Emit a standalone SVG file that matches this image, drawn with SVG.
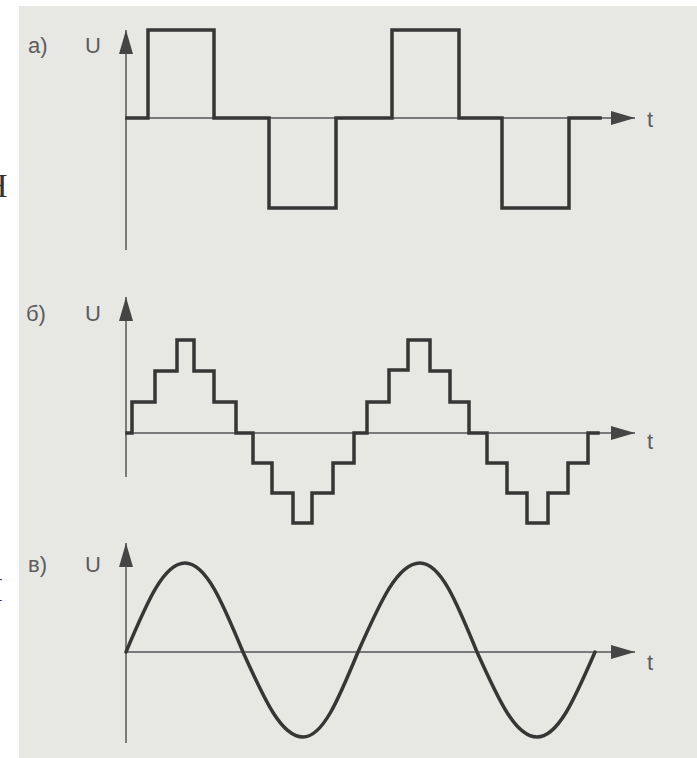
<svg xmlns="http://www.w3.org/2000/svg" width="697" height="758" viewBox="0 0 697 758">
<defs>
<marker id="arr" markerUnits="userSpaceOnUse" markerWidth="24" markerHeight="14" refX="24" refY="7" orient="auto" overflow="visible">
<path d="M0,0 L24,7 L0,14 Z" fill="#454545"/>
</marker>
<style>
.axis{stroke:#7a7a7a;stroke-width:2;fill:none}
.wave{stroke:#363636;stroke-width:3.5;fill:none;stroke-linejoin:miter;stroke-linecap:square}
.lbl{font-family:"Liberation Sans",Arial,sans-serif;font-size:22px;fill:#5c5c5c}
.side{font-family:"Liberation Serif","Times New Roman",serif;fill:#333}
</style>
</defs>
<rect x="0" y="0" width="697" height="758" fill="#ffffff"/>
<rect x="19" y="6" width="678" height="752" fill="#e7e7e3"/>
<g id="side-text">
<text class="side" x="-17" y="197" font-size="34">Н</text>
<text class="side" x="-8" y="601" font-size="33">I</text>
</g>
<g id="connectors">
<line class="axis" x1="126" y1="250" x2="126" y2="30" marker-end="url(#arr)"/>
<line class="axis" x1="126" y1="118" x2="635" y2="118" marker-end="url(#arr)"/>
<line class="axis" x1="126" y1="477" x2="126" y2="297" marker-end="url(#arr)"/>
<line class="axis" x1="126" y1="433" x2="635" y2="433" marker-end="url(#arr)"/>
<line class="axis" x1="126" y1="743" x2="126" y2="543" marker-end="url(#arr)"/>
<line class="axis" x1="126" y1="652" x2="635" y2="652" marker-end="url(#arr)"/>
</g>
<g id="plot-a">
<text class="lbl" x="28" y="53">а)</text>
<text class="lbl" x="85" y="53">U</text>
<text class="lbl" x="647" y="127">t</text>
<path class="wave" d="M127,118 H148 V30 H214 V118 H269 V208 H336 V118 H392 V30 H459 V118 H502 V208 H569 V118 H600"/>
</g>
<g id="plot-b">
<text class="lbl" x="26" y="321">б)</text>
<text class="lbl" x="85" y="321">U</text>
<text class="lbl" x="647" y="449">t</text>
<path class="wave" d="M127,433 H132 V402 H155 V371 H177 V340 H194 V371 H214 V402 H236 V433 H253 V463 H272 V493 H293 V523 H312 V493 H333 V463 H354 V433 H367 V402 H389 V370 H408 V340 H430 V371 H450 V402 H469 V433 H487 V463 H507 V493 H527 V523 H548 V493 H568 V463 H588 V433 H598"/>
</g>
<g id="plot-c">
<text class="lbl" x="28" y="572">в)</text>
<text class="lbl" x="85" y="572">U</text>
<text class="lbl" x="647" y="670">t</text>
<path class="wave" style="stroke-linecap:round" d="M126,652 C147.2,601.7 163.8,563 185,563 C205.9,563 222.1,601.7 243,652 C264.6,700 281.4,737 303,737 C322.8,737 338.2,700 358,652 C380.3,601.7 397.7,563 420,563 C440.5,563 456.5,601.7 477,652 C498.6,700 515.4,737 537,737 C557.9,737 574.1,700 595,652"/>
</g>
</svg>
